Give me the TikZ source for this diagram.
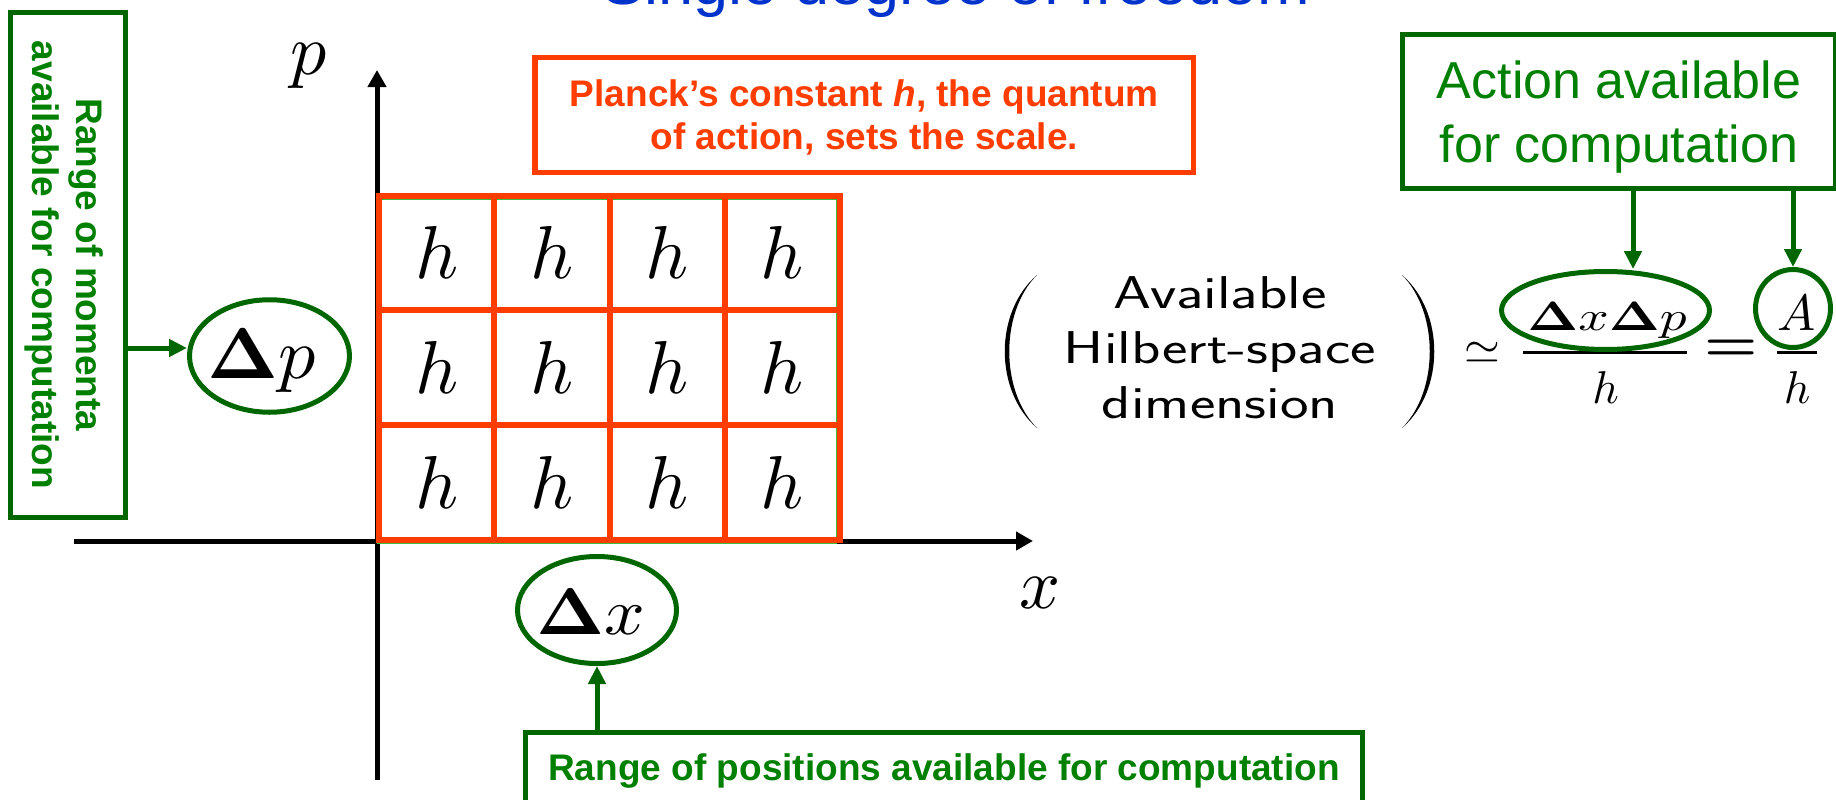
\documentclass[tikz,border=0pt]{standalone}
\usepackage[no-math]{fontspec}
\setmainfont{Liberation Sans}
\setsansfont{Latin Modern Sans}
\usepackage{graphicx}
\DeclareFontShape{OML}{cmm}{m}{it}{<->cmmi10}{\skewchar\font127}
\DeclareFontShape{OML}{cmm}{b}{it}{<->cmmib10}{\skewchar\font127}
\DeclareFontShape{OT1}{cmr}{m}{n}{<->cmr10}{}
\DeclareFontShape{OT1}{cmr}{bx}{n}{<->cmbx10}{}
\DeclareFontShape{OMS}{cmsy}{m}{n}{<->cmsy10}{\skewchar\font48}
\DeclareFontShape{OMS}{cmsy}{b}{n}{<->cmbsy10}{\skewchar\font48}
\DeclareFontShape{OMX}{cmex}{m}{n}{<->cmex10}{}
\usetikzlibrary{arrows.meta,shapes.geometric}
\definecolor{redc}{RGB}{255,61,0}
\definecolor{gborder}{RGB}{0,102,0}
\definecolor{gtext}{RGB}{0,128,0}
\definecolor{gthin}{RGB}{60,190,60}
\definecolor{tblue}{RGB}{0,51,204}
\newcommand{\Dl}{\mathbf{\Delta}}
\begin{document}
\begin{tikzpicture}[x=1pt,y=-1pt,
  gbox/.style={draw=gborder, line width=4.8pt, inner sep=0pt, text=gtext, align=center, text depth=0pt},
  rbox/.style={draw=redc, line width=5.5pt, inner sep=0pt, text=redc, align=center, text depth=0pt},
  boldtxt/.style={font=\bfseries\fontsize{37}{43}\selectfont},
  arr/.style={draw=gborder, line width=5pt, -{Triangle[length=18pt,width=17pt]}},
  axisline/.style={draw=black, line width=5pt, -{Triangle[length=17pt,width=18pt]}},
  cell/.style={draw=redc, line width=6pt, minimum width=115.25pt, minimum height=114.83pt, inner sep=0pt, font=\fontsize{75}{75}\selectfont},
  ring/.style={ellipse, draw=gborder, line width=5pt, inner sep=0pt},
  mth/.style={inner sep=0pt, anchor=base},
  paren/.style={fill=black},
]
\useasboundingbox (0,0) rectangle (1836,800);
\clip (0,0) rectangle (1836,800);

% title (cut at top)
\node[mth, text=tblue, font=\fontsize{63}{63}\selectfont] (title) at (956,5) {Single degree of freedom};

% axes
\coordinate (yb) at (377,780);
\coordinate (yt) at (377,70);
\coordinate (xl) at (74,541);
\coordinate (xr) at (1033,541);
\draw[axisline] (yb) -- (yt);
\draw[axisline] (xl) -- (xr);
\node[inner sep=0pt, font=\fontsize{72}{72}\selectfont] (plab) at (309,66) {$p$};
\node[inner sep=0pt, font=\fontsize{72}{72}\selectfont] (xlab) at (1040.5,592.5) {$x$};

% thin green frame under the grid
\draw[gthin, line width=1.4pt] (378,198.8) rectangle (836.3,543.3);

% grid of cells
\foreach \i in {0,...,3}{
  \foreach \j in {0,...,2}{
    \node[cell] (c\i\j) at ({379+115.25*(\i+0.5)},{195.5+114.83*(\j+0.5)}) {$h$};
  }
}

% Planck box
\node[rbox, boldtxt, minimum width=658.6pt, minimum height=114.5pt] (planck) at (864.3,115)
  {Planck’s constant \textit{h}, the quantum\\of action, sets the scale.};

% left box (rotated)
\node[gbox, rotate=-90, minimum width=505.5pt, minimum height=115.5pt,
      font=\bfseries\fontsize{37}{44}\selectfont] (lbox) at (68,265)
  {Range of momenta\\available for computation};

% Delta p
\node[ring, minimum width=160pt, minimum height=112.5pt] (pE) at (269.5,356) {};
\node[mth, font=\fontsize{72}{72}\selectfont] (pT) at (262,378) {\scalebox{1.03}[1]{$\Dl p$}};
\draw[arr] ([yshift=8pt]pE.west -| lbox.north) -- ([yshift=8pt]pE.west);

% Delta x
\node[ring, minimum width=159pt, minimum height=107pt] (xE) at (597,610) {};
\node[mth, font=\fontsize{66}{66}\selectfont] (xT) at (591,634) {\scalebox{1.08}[1]{$\Dl x$}};

% bottom box
\node[gbox, boldtxt, minimum width=837pt, minimum height=70pt] (bbox) at (944,767.5)
  {Range of positions available for computation};
\draw[arr] (bbox.north -| xE.south) -- (xE.south);

% formula
\fill[paren] (1037,275) .. controls (994,312) and (994,391) .. (1037,428)
  .. controls (1000,391) and (1000,312) .. (1037,275) -- cycle;
\fill[paren] (1402,275) .. controls (1445,312) and (1445,391) .. (1402,428)
  .. controls (1439,391) and (1439,312) .. (1402,275) -- cycle;
\node[inner sep=0pt, font=\sffamily\fontsize{46}{55}\selectfont] (dim) at (1220,352)
  {\scalebox{1.32}[1]{\begin{tabular}{@{}c@{}}Available\\Hilbert-space\\dimension\end{tabular}}};
\node[inner sep=0pt, font=\fontsize{46}{46}\selectfont] (sim) at (1482,353) {$\simeq$};
\node[mth, font=\fontsize{41}{41}\selectfont] (num) at (1607,330) {\scalebox{1.3}[1]{$\Dl x\Dl p$}};
\draw[line width=2.7pt] (1523,352.5) -- (1687,352.5);
\node[mth, font=\fontsize{46}{46}\selectfont] (den1) at (1605.5,403) {$h$};
\node[inner sep=0pt, font=\fontsize{52}{52}\selectfont] (eq) at (1731.5,350) {\scalebox{1.15}[1]{\boldmath$=$}};
\draw[line width=2.7pt] (1777,352.5) -- (1817,352.5);
\node[mth, font=\fontsize{51}{51}\selectfont] (Atx) at (1796.5,330) {$A$};
\node[mth, font=\fontsize{46}{46}\selectfont] (den2) at (1797,403) {$h$};

\node[ring, minimum width=208pt, minimum height=78pt] (numE) at (1605.5,310.5) {};
\node[ring, minimum width=75pt, minimum height=78pt] (Ac) at (1793,308.5) {};

% action box
\node[gbox, font=\fontsize{52}{64}\selectfont, minimum width=433pt, minimum height=154pt] (action) at (1619,111.5)
  {Action available\\for computation};
\coordinate (a1) at (1633,0);
\draw[arr] (action.south -| a1) -- (numE.north -| a1);
\draw[arr] (action.south -| Ac.north) -- (Ac.north);
\end{tikzpicture}
\end{document}
